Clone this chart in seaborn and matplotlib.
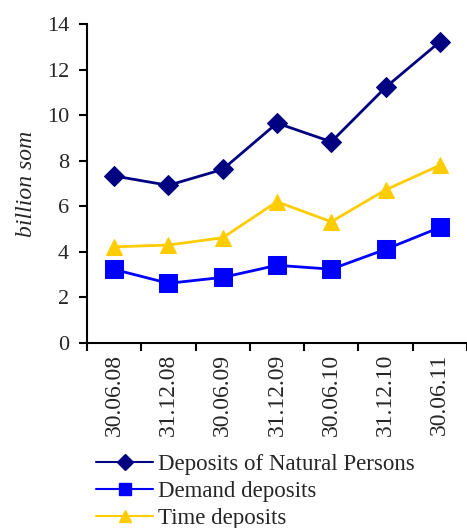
import matplotlib
matplotlib.use("Agg")
import matplotlib.pyplot as plt
import seaborn as sns
import pandas as pd
from matplotlib.ticker import FixedLocator
from matplotlib.lines import Line2D

dates = ["30.06.08", "31.12.08", "30.06.09", "31.12.09", "30.06.10", "31.12.10", "30.06.11"]
natural = [7.33, 6.92, 7.62, 9.65, 8.83, 11.22, 13.22]
demand = [3.23, 2.62, 2.88, 3.41, 3.24, 4.11, 5.07]
time_dep = [4.22, 4.3, 4.62, 6.2, 5.32, 6.72, 7.8]

series_names = ["Deposits of Natural Persons", "Demand deposits", "Time deposits"]
colors = ["#000080", "#0000FF", "#FFCC00"]
markers = ["D", "s", "^"]
msizes = [10, 13, 11]
leg_msizes = [8, 9, 9]

sns.set_style("white")
SERIF = ["Liberation Serif", "DejaVu Serif"]
plt.rcParams["font.family"] = SERIF
plt.rcParams["font.serif"] = SERIF

df = pd.DataFrame({
    "x": list(range(len(dates))) * 3,
    "value": natural + demand + time_dep,
    "series": sum([[n] * len(dates) for n in series_names], []),
})

fig = plt.figure(figsize=(4.67, 5.28), dpi=100)
ax = fig.add_axes([87 / 467, 1 - 343 / 528, 380 / 467, (343 - 24) / 528])

for name, c, m, ms in zip(series_names, colors, markers, msizes):
    sub = df[df["series"] == name]
    sns.lineplot(data=sub, x="x", y="value", ax=ax, color=c, marker=m,
                 markersize=ms, markeredgecolor=c, linewidth=2, legend=False)

FS = 16
ax.set_xlim(-0.5, len(dates) - 0.5)
ax.set_ylim(0, 14)
ax.set_yticks(range(0, 15, 2))
ax.set_yticklabels([str(v) for v in range(0, 15, 2)], fontsize=FS, family=SERIF)
ax.set_xticks(range(len(dates)))
ax.set_xticklabels(dates, rotation=90, fontsize=17, family=SERIF)
ax.xaxis.set_minor_locator(FixedLocator([i - 0.5 for i in range(len(dates) + 1)]))
ax.tick_params(axis="x", which="major", length=0, pad=8)
ax.tick_params(axis="x", which="minor", length=6, width=1.5, color="black", direction="out", bottom=True)
ax.tick_params(axis="y", length=6, width=1.5, color="black", direction="out", left=True, pad=7)

ax.set_xlabel("")
ax.set_ylabel("billion som", fontsize=17, fontstyle="italic", family=SERIF, labelpad=7)

for s in ["top", "right"]:
    ax.spines[s].set_visible(False)
for s in ["left", "bottom"]:
    ax.spines[s].set_color("black")
    ax.spines[s].set_linewidth(1.5)

handles = [Line2D([], [], color=c, marker=m, markersize=ms, markeredgecolor=c, linewidth=1.5)
           for c, m, ms in zip(colors, markers, leg_msizes)]
fig.legend(handles, series_names, loc="upper left", bbox_to_anchor=(96 / 467, 1 - 454 / 528),
           frameon=False, prop={"family": SERIF, "size": 16.5}, handlelength=2.5, handletextpad=0.2,
           labelspacing=0.25, borderaxespad=0, borderpad=0)

fig.savefig("out.png", dpi=100)
